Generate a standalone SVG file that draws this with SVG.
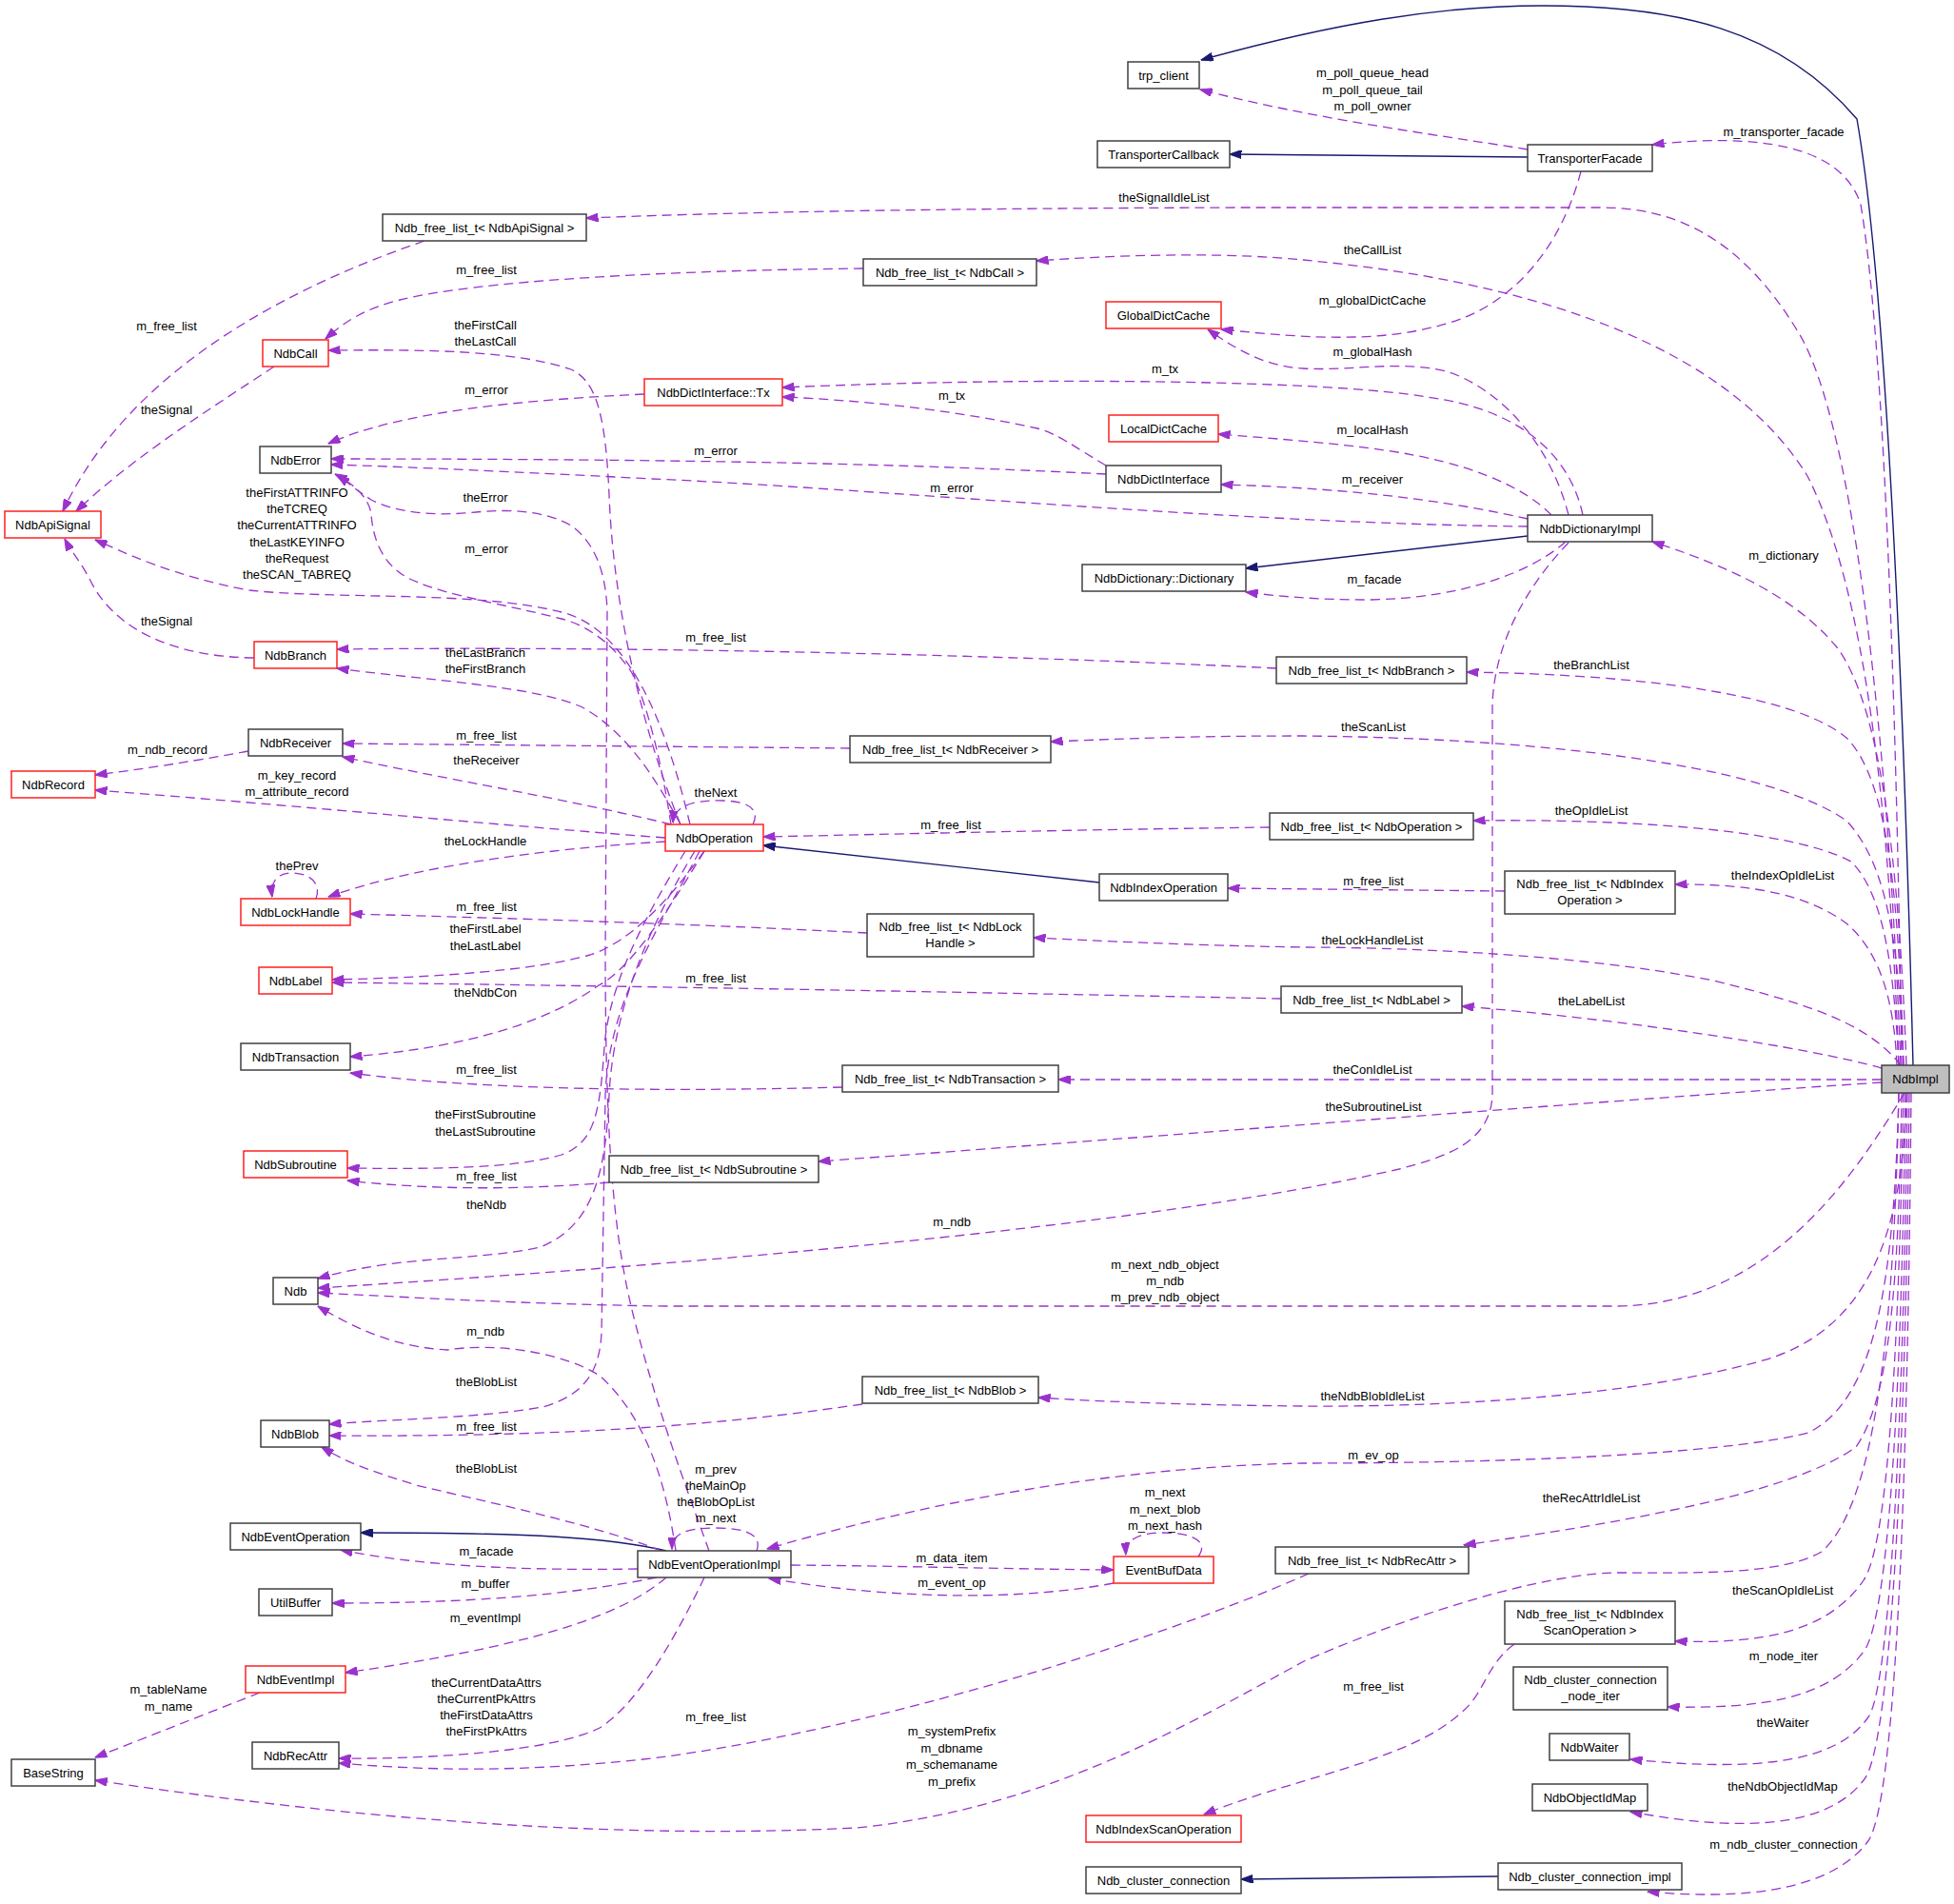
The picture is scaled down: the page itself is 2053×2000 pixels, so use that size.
<svg xmlns="http://www.w3.org/2000/svg" width="2053" height="2000" viewBox="0 0 2053 2000">
<style>
text{font-family:"Liberation Sans",Arial,sans-serif;font-size:13px;fill:#000;text-anchor:middle}
.n rect{fill:#fff;stroke:#404040;stroke-width:1.5}
.r rect{stroke:#ff2020}
.g rect{fill:#bfbfbf}
.e{fill:none;stroke:#9a32cd;stroke-width:1.3;stroke-dasharray:10,6;marker-end:url(#ap)}
.i{fill:none;stroke:#191970;stroke-width:1.4;marker-end:url(#ab)}
</style>
<defs>
<marker id="ap" viewBox="0 0 13 9" refX="12.5" refY="4.5" markerWidth="13" markerHeight="9" markerUnits="userSpaceOnUse" orient="auto"><path d="M0,0 L13,4.5 L0,9z" fill="#9a32cd" stroke="#9a32cd" stroke-dasharray="none"/></marker>
<marker id="ab" viewBox="0 0 13 9" refX="12.5" refY="4.5" markerWidth="13" markerHeight="9" markerUnits="userSpaceOnUse" orient="auto"><path d="M0,0 L13,4.5 L0,9z" fill="#191970" stroke="#191970" stroke-dasharray="none"/></marker>
</defs>
<rect width="2053" height="2000" fill="#fff"/>
<g id="connectors">
<path class="i" d="M2010,1119 C2002,800 1985,320 1951,125 C1870,30 1760,6 1621,6 C1510,6 1400,25 1262,63"/>
<path class="i" d="M1605,165 L1292,162"/>
<path class="i" d="M1605,563 L1309,597"/>
<path class="i" d="M1155,927 C1000,910 900,898 802,888"/>
<path class="i" d="M700,1629 C640,1615 560,1610 379,1610"/>
<path class="i" d="M1574,1971 L1304,1974"/>
<path class="e" d="M1605,157 C1500,140 1380,125 1261,94"/>
<path class="e" d="M1998,1119 C1992,700 1978,350 1955,215 C1935,150 1840,140 1736,152"/>
<path class="e" d="M1997,1119 C1985,800 1950,450 1890,350 C1830,250 1760,218 1683,218 L1300,218 C1000,219 800,222 616,229"/>
<path class="e" d="M446,253 C280,310 130,400 66,537"/>
<path class="e" d="M907,282 C700,284 500,295 420,315 C380,325 360,340 342,356"/>
<path class="e" d="M1995,1119 C1985,850 1960,620 1899,500 C1800,340 1550,290 1369,273 C1300,266 1200,266 1089,274"/>
<path class="e" d="M288,385 C220,430 140,480 80,537"/>
<path class="e" d="M715,866 C680,780 645,650 640,520 C636,430 625,400 600,388 C540,368 450,367 345,368"/>
<path class="e" d="M1661,180 C1640,260 1590,320 1520,340 C1450,360 1380,356 1283,346"/>
<path class="e" d="M1648,541 C1630,470 1580,410 1520,390 C1470,378 1420,390 1369,387 C1330,385 1300,368 1269,346"/>
<path class="e" d="M1663,541 C1650,480 1600,430 1499,417 C1400,400 1100,395 822,407"/>
<path class="e" d="M1162,489 C1130,470 1110,455 1090,450 C1000,430 900,420 822,417"/>
<path class="e" d="M677,414 C550,420 420,432 345,466"/>
<path class="e" d="M1630,541 C1600,510 1540,485 1455,473 C1400,465 1330,460 1280,456"/>
<path class="e" d="M1162,498 C1000,490 800,482 348,482"/>
<path class="e" d="M1605,545 C1530,528 1430,513 1283,509"/>
<path class="e" d="M1605,553 C1300,550 900,512 685,503 C550,496 420,490 348,488"/>
<path class="e" d="M725,866 C700,760 660,660 590,643 C500,620 350,630 262,620 C180,605 130,580 100,567"/>
<path class="e" d="M705,866 C695,800 680,740 664,707 C640,670 610,655 590,650 C530,635 470,625 440,612 C405,600 392,570 390,540 C388,525 375,510 352,498"/>
<path class="e" d="M745,1629 C720,1560 690,1480 665,1380 C645,1300 636,1200 636,1000 L638,640 C636,600 625,570 600,552 C570,535 530,535 500,538 C460,542 420,540 390,525 C375,515 365,507 355,499"/>
<path class="e" d="M2003,1119 C1995,900 1975,740 1930,680 C1880,620 1800,590 1736,569"/>
<path class="e" d="M1645,569 C1610,600 1540,628 1440,630 C1380,630 1340,626 1309,622"/>
<path class="e" d="M267,691 C180,690 120,660 95,610 C85,590 75,580 68,566"/>
<path class="e" d="M1341,702 C1100,690 700,678 354,682"/>
<path class="e" d="M715,866 C690,820 660,770 612,743 C560,720 450,715 354,702"/>
<path class="e" d="M2000,1119 C1995,950 1985,820 1940,775 C1880,725 1700,708 1541,706"/>
<path class="e" d="M2000,1119 C1995,1000 1985,910 1940,862 C1850,800 1600,775 1369,773 C1250,773 1180,776 1104,779"/>
<path class="e" d="M893,786 L360,781"/>
<path class="e" d="M261,789 C200,800 150,808 100,814"/>
<path class="e" d="M705,866 C600,840 450,815 360,795"/>
<path class="e" d="M699,880 C500,865 300,845 100,830"/>
<path class="e" d="M791,866 C798,852 790,842 760,841 C725,840 708,848 707,864"/>
<path class="e" d="M1995,1119 C1990,1020 1980,940 1945,905 C1880,870 1700,860 1548,862"/>
<path class="e" d="M1334,869 C1100,872 950,876 802,879"/>
<path class="e" d="M699,884 C600,890 450,905 345,942"/>
<path class="e" d="M332,944 C338,928 326,917 306,917 C290,917 284,928 286,942"/>
<path class="e" d="M1993,1119 C1990,1050 1975,1000 1940,970 C1900,940 1840,928 1760,929"/>
<path class="e" d="M1581,936 L1290,933"/>
<path class="e" d="M911,980 C800,974 600,966 368,960"/>
<path class="e" d="M740,894 C700,950 660,990 620,1003 C560,1020 450,1027 349,1029"/>
<path class="e" d="M1997,1119 C1960,1070 1880,1050 1800,1030 C1650,1000 1450,995 1369,995 C1250,993 1150,988 1086,985"/>
<path class="e" d="M1346,1049 C1100,1044 700,1036 349,1032"/>
<path class="e" d="M740,894 C700,960 660,1020 629,1035 C580,1070 500,1100 368,1110"/>
<path class="e" d="M1977,1122 C1900,1100 1700,1070 1536,1057"/>
<path class="e" d="M1977,1134 L1112,1134"/>
<path class="e" d="M885,1142 C700,1147 500,1145 368,1127"/>
<path class="e" d="M1977,1137 C1700,1155 1200,1195 860,1220"/>
<path class="e" d="M720,894 C680,960 640,1030 635,1100 C630,1170 625,1200 590,1213 C540,1228 450,1228 365,1227"/>
<path class="e" d="M640,1242 C550,1250 450,1250 365,1240"/>
<path class="e" d="M730,894 C690,960 645,1050 640,1150 C636,1250 615,1290 568,1310 C500,1325 420,1318 334,1343"/>
<path class="e" d="M1648,570 C1600,620 1570,680 1568,740 L1568,1150 C1566,1200 1520,1215 1470,1228 C1200,1290 700,1330 334,1353"/>
<path class="e" d="M2001,1148 C1940,1250 1850,1372 1696,1372 L700,1372 C550,1370 420,1362 334,1358"/>
<path class="e" d="M710,1629 C700,1560 680,1490 630,1445 C590,1420 520,1410 470,1418 C420,1415 380,1400 334,1372"/>
<path class="e" d="M735,894 C690,980 640,1050 636,1150 L632,1400 C630,1440 615,1465 570,1478 C500,1490 420,1490 346,1496"/>
<path class="e" d="M2003,1148 C2000,1300 1960,1400 1849,1430 C1700,1470 1500,1478 1369,1477 C1250,1476 1150,1472 1091,1468"/>
<path class="e" d="M906,1475 C800,1490 650,1510 346,1508"/>
<path class="e" d="M1995,1148 C1990,1350 1970,1470 1900,1505 C1800,1530 1550,1537 1369,1537 C1200,1540 1000,1570 806,1627"/>
<path class="e" d="M695,1629 C620,1600 500,1575 437,1560 C400,1548 370,1540 338,1520"/>
<path class="e" d="M795,1629 C800,1615 790,1605 752,1605 C718,1605 706,1612 706,1627"/>
<path class="e" d="M1259,1635 C1270,1620 1255,1610 1222,1610 C1195,1610 1182,1618 1183,1633"/>
<path class="e" d="M1998,1148 C1995,1350 1985,1470 1950,1520 C1880,1570 1700,1600 1538,1623"/>
<path class="e" d="M670,1648 C550,1650 440,1645 358,1628"/>
<path class="e" d="M831,1644 C950,1645 1050,1648 1170,1649"/>
<path class="e" d="M690,1657 C600,1675 500,1684 349,1684"/>
<path class="e" d="M1170,1663 C1080,1680 950,1682 808,1658"/>
<path class="e" d="M2000,1148 C1995,1400 1985,1620 1958,1660 C1920,1715 1850,1727 1760,1724"/>
<path class="e" d="M700,1657 C650,1700 550,1730 363,1757"/>
<path class="e" d="M2002,1148 C1998,1450 1985,1700 1958,1735 C1920,1785 1850,1795 1752,1793"/>
<path class="e" d="M740,1657 C710,1720 670,1790 630,1815 C580,1840 450,1848 356,1847"/>
<path class="e" d="M273,1778 L100,1846"/>
<path class="e" d="M1591,1727 C1560,1750 1560,1780 1534,1800 C1480,1850 1350,1870 1265,1906"/>
<path class="e" d="M1375,1653 C1200,1730 900,1820 685,1847 C550,1862 450,1860 356,1852"/>
<path class="e" d="M2004,1148 C2000,1500 1985,1780 1962,1805 C1930,1850 1850,1862 1713,1848"/>
<path class="e" d="M1995,1148 C1990,1400 1970,1580 1914,1630 C1870,1655 1780,1652 1696,1652 C1600,1655 1450,1710 1370,1745 C1250,1810 1100,1900 900,1920 C600,1935 300,1900 100,1870"/>
<path class="e" d="M2006,1148 C2002,1550 1985,1840 1958,1870 C1920,1920 1830,1925 1713,1903"/>
<path class="e" d="M2008,1148 C2004,1600 1990,1900 1962,1935 C1920,1990 1820,1995 1731,1987"/>
<text x="1442" y="81">m_poll_queue_head<tspan x="1442" dy="17.5">m_poll_queue_tail</tspan><tspan x="1442" dy="17.5">m_poll_owner</tspan></text>
<text x="1874" y="143">m_transporter_facade</text>
<text x="1223" y="212">theSignalIdleList</text>
<text x="511" y="288">m_free_list</text>
<text x="1442" y="267">theCallList</text>
<text x="175" y="347">m_free_list</text>
<text x="510" y="346">theFirstCall<tspan x="510" dy="17">theLastCall</tspan></text>
<text x="1442" y="320">m_globalDictCache</text>
<text x="1442" y="374">m_globalHash</text>
<text x="1224" y="392">m_tx</text>
<text x="1000" y="420">m_tx</text>
<text x="511" y="414">m_error</text>
<text x="1442" y="456">m_localHash</text>
<text x="175" y="435">theSignal</text>
<text x="752" y="478">m_error</text>
<text x="1442" y="508">m_receiver</text>
<text x="1000" y="517">m_error</text>
<text x="312" y="522">theFirstATTRINFO<tspan x="312" dy="17.2">theTCREQ</tspan><tspan x="312" dy="17.2">theCurrentATTRINFO</tspan><tspan x="312" dy="17.2">theLastKEYINFO</tspan><tspan x="312" dy="17.2">theRequest</tspan><tspan x="312" dy="17.2">theSCAN_TABREQ</tspan></text>
<text x="510" y="527">theError</text>
<text x="511" y="581">m_error</text>
<text x="1874" y="588">m_dictionary</text>
<text x="1444" y="613">m_facade</text>
<text x="175" y="657">theSignal</text>
<text x="752" y="674">m_free_list</text>
<text x="510" y="690">theLastBranch<tspan x="510" dy="17">theFirstBranch</tspan></text>
<text x="1672" y="703">theBranchList</text>
<text x="1443" y="768">theScanList</text>
<text x="511" y="777">m_free_list</text>
<text x="176" y="792">m_ndb_record</text>
<text x="511" y="803">theReceiver</text>
<text x="312" y="819">m_key_record<tspan x="312" dy="17">m_attribute_record</tspan></text>
<text x="752" y="837">theNext</text>
<text x="1672" y="856">theOpIdleList</text>
<text x="999" y="871">m_free_list</text>
<text x="510" y="888">theLockHandle</text>
<text x="312" y="914">thePrev</text>
<text x="1873" y="924">theIndexOpIdleList</text>
<text x="1443" y="930">m_free_list</text>
<text x="511" y="957">m_free_list</text>
<text x="510" y="980">theFirstLabel<tspan x="510" dy="17.5">theLastLabel</tspan></text>
<text x="1442" y="992">theLockHandleList</text>
<text x="752" y="1032">m_free_list</text>
<text x="510" y="1047">theNdbCon</text>
<text x="1672" y="1056">theLabelList</text>
<text x="1442" y="1128">theConIdleList</text>
<text x="511" y="1128">m_free_list</text>
<text x="1443" y="1167">theSubroutineList</text>
<text x="510" y="1175">theFirstSubroutine<tspan x="510" dy="17.5">theLastSubroutine</tspan></text>
<text x="511" y="1240">m_free_list</text>
<text x="511" y="1270">theNdb</text>
<text x="1000" y="1288">m_ndb</text>
<text x="1224" y="1333">m_next_ndb_object<tspan x="1224" dy="17">m_ndb</tspan><tspan x="1224" dy="17">m_prev_ndb_object</tspan></text>
<text x="510" y="1403">m_ndb</text>
<text x="511" y="1456">theBlobList</text>
<text x="1442" y="1471">theNdbBlobIdleList</text>
<text x="511" y="1503">m_free_list</text>
<text x="1443" y="1533">m_ev_op</text>
<text x="511" y="1547">theBlobList</text>
<text x="752" y="1548">m_prev<tspan x="752" dy="17">theMainOp</tspan><tspan x="752" dy="17">theBlobOpList</tspan><tspan x="752" dy="17">m_next</tspan></text>
<text x="1224" y="1572">m_next<tspan x="1224" dy="17.5">m_next_blob</tspan><tspan x="1224" dy="17.5">m_next_hash</tspan></text>
<text x="1672" y="1578">theRecAttrIdleList</text>
<text x="511" y="1634">m_facade</text>
<text x="1000" y="1641">m_data_item</text>
<text x="510" y="1668">m_buffer</text>
<text x="1000" y="1667">m_event_op</text>
<text x="1873" y="1675">theScanOpIdleList</text>
<text x="510" y="1704">m_eventImpl</text>
<text x="1874" y="1744">m_node_iter</text>
<text x="511" y="1772">theCurrentDataAttrs<tspan x="511" dy="17">theCurrentPkAttrs</tspan><tspan x="511" dy="17">theFirstDataAttrs</tspan><tspan x="511" dy="17">theFirstPkAttrs</tspan></text>
<text x="177" y="1779">m_tableName<tspan x="177" dy="17.5">m_name</tspan></text>
<text x="1443" y="1776">m_free_list</text>
<text x="752" y="1808">m_free_list</text>
<text x="1873" y="1814">theWaiter</text>
<text x="1000" y="1823">m_systemPrefix<tspan x="1000" dy="17.5">m_dbname</tspan><tspan x="1000" dy="17.5">m_schemaname</tspan><tspan x="1000" dy="17.5">m_prefix</tspan></text>
<text x="1873" y="1881">theNdbObjectIdMap</text>
<text x="1874" y="1942">m_ndb_cluster_connection</text>
</g>
<g id="NdbImpl" class="n g"><rect x="1977" y="1119" width="71" height="29"/><text x="2012.5" y="1138">NdbImpl</text></g>
<g id="trp_client" class="n"><rect x="1185" y="65" width="75" height="28"/><text x="1222.5" y="83.5">trp_client</text></g>
<g id="TransporterCallback" class="n"><rect x="1153" y="148" width="139" height="28"/><text x="1222.5" y="166.5">TransporterCallback</text></g>
<g id="TransporterFacade" class="n"><rect x="1605" y="152" width="131" height="28"/><text x="1670.5" y="170.5">TransporterFacade</text></g>
<g id="FreeListApiSignal" class="n"><rect x="402" y="225" width="214" height="28"/><text x="509" y="243.5">Ndb_free_list_t&lt; NdbApiSignal &gt;</text></g>
<g id="FreeListCall" class="n"><rect x="907" y="272" width="182" height="28"/><text x="998" y="290.5">Ndb_free_list_t&lt; NdbCall &gt;</text></g>
<g id="GlobalDictCache" class="n r"><rect x="1162" y="317" width="121" height="28"/><text x="1222.5" y="335.5">GlobalDictCache</text></g>
<g id="NdbCall" class="n r"><rect x="276" y="357" width="69" height="28"/><text x="310.5" y="375.5">NdbCall</text></g>
<g id="NdbDictInterfaceTx" class="n r"><rect x="677" y="398" width="145" height="28"/><text x="749.5" y="416.5">NdbDictInterface::Tx</text></g>
<g id="LocalDictCache" class="n r"><rect x="1165" y="436" width="115" height="28"/><text x="1222.5" y="454.5">LocalDictCache</text></g>
<g id="NdbError" class="n"><rect x="273" y="469" width="75" height="28"/><text x="310.5" y="487.5">NdbError</text></g>
<g id="NdbDictInterface" class="n"><rect x="1162" y="489" width="121" height="28"/><text x="1222.5" y="507.5">NdbDictInterface</text></g>
<g id="NdbApiSignal" class="n r"><rect x="5" y="537" width="101" height="28"/><text x="55.5" y="555.5">NdbApiSignal</text></g>
<g id="NdbDictionaryImpl" class="n"><rect x="1605" y="541" width="131" height="28"/><text x="1670.5" y="559.5">NdbDictionaryImpl</text></g>
<g id="NdbDictionaryDictionary" class="n"><rect x="1137" y="593" width="172" height="28"/><text x="1223" y="611.5">NdbDictionary::Dictionary</text></g>
<g id="NdbBranch" class="n r"><rect x="267" y="674" width="87" height="28"/><text x="310.5" y="692.5">NdbBranch</text></g>
<g id="FreeListBranch" class="n"><rect x="1341" y="690" width="200" height="28"/><text x="1441" y="708.5">Ndb_free_list_t&lt; NdbBranch &gt;</text></g>
<g id="NdbReceiver" class="n"><rect x="261" y="766" width="99" height="28"/><text x="310.5" y="784.5">NdbReceiver</text></g>
<g id="FreeListReceiver" class="n"><rect x="893" y="773" width="211" height="28"/><text x="998.5" y="791.5">Ndb_free_list_t&lt; NdbReceiver &gt;</text></g>
<g id="NdbRecord" class="n r"><rect x="12" y="810" width="88" height="28"/><text x="56" y="828.5">NdbRecord</text></g>
<g id="NdbOperation" class="n r"><rect x="699" y="866" width="103" height="28"/><text x="750.5" y="884.5">NdbOperation</text></g>
<g id="FreeListOperation" class="n"><rect x="1334" y="854" width="214" height="28"/><text x="1441" y="872.5">Ndb_free_list_t&lt; NdbOperation &gt;</text></g>
<g id="NdbIndexOperation" class="n"><rect x="1155" y="918" width="135" height="28"/><text x="1222.5" y="936.5">NdbIndexOperation</text></g>
<g id="FreeListIndexOperation" class="n"><rect x="1581" y="915" width="179" height="45"/><text x="1670.5" y="932.5">Ndb_free_list_t&lt; NdbIndex<tspan x="1670.5" dy="17">Operation &gt;</tspan></text></g>
<g id="NdbLockHandle" class="n r"><rect x="253" y="944" width="115" height="28"/><text x="310.5" y="962.5">NdbLockHandle</text></g>
<g id="FreeListLockHandle" class="n"><rect x="911" y="960" width="175" height="45"/><text x="998.5" y="977.5">Ndb_free_list_t&lt; NdbLock<tspan x="998.5" dy="17">Handle &gt;</tspan></text></g>
<g id="NdbLabel" class="n r"><rect x="272" y="1016" width="77" height="28"/><text x="310.5" y="1034.5">NdbLabel</text></g>
<g id="FreeListLabel" class="n"><rect x="1346" y="1036" width="190" height="28"/><text x="1441" y="1054.5">Ndb_free_list_t&lt; NdbLabel &gt;</text></g>
<g id="NdbTransaction" class="n"><rect x="253" y="1096" width="115" height="28"/><text x="310.5" y="1114.5">NdbTransaction</text></g>
<g id="FreeListTransaction" class="n"><rect x="885" y="1119" width="227" height="28"/><text x="998.5" y="1137.5">Ndb_free_list_t&lt; NdbTransaction &gt;</text></g>
<g id="NdbSubroutine" class="n r"><rect x="256" y="1209" width="109" height="28"/><text x="310.5" y="1227.5">NdbSubroutine</text></g>
<g id="FreeListSubroutine" class="n"><rect x="640" y="1214" width="220" height="28"/><text x="750" y="1232.5">Ndb_free_list_t&lt; NdbSubroutine &gt;</text></g>
<g id="Ndb" class="n"><rect x="287" y="1342" width="47" height="28"/><text x="310.5" y="1360.5">Ndb</text></g>
<g id="FreeListBlob" class="n"><rect x="906" y="1446" width="185" height="28"/><text x="998.5" y="1464.5">Ndb_free_list_t&lt; NdbBlob &gt;</text></g>
<g id="NdbBlob" class="n"><rect x="274" y="1492" width="72" height="28"/><text x="310" y="1510.5">NdbBlob</text></g>
<g id="NdbEventOperation" class="n"><rect x="242" y="1600" width="137" height="28"/><text x="310.5" y="1618.5">NdbEventOperation</text></g>
<g id="NdbEventOperationImpl" class="n"><rect x="670" y="1629" width="161" height="28"/><text x="750.5" y="1647.5">NdbEventOperationImpl</text></g>
<g id="EventBufData" class="n r"><rect x="1170" y="1635" width="105" height="28"/><text x="1222.5" y="1653.5">EventBufData</text></g>
<g id="FreeListRecAttr" class="n"><rect x="1340" y="1625" width="203" height="28"/><text x="1441.5" y="1643.5">Ndb_free_list_t&lt; NdbRecAttr &gt;</text></g>
<g id="UtilBuffer" class="n"><rect x="272" y="1669" width="77" height="28"/><text x="310.5" y="1687.5">UtilBuffer</text></g>
<g id="FreeListIndexScanOperation" class="n"><rect x="1581" y="1682" width="179" height="45"/><text x="1670.5" y="1699.5">Ndb_free_list_t&lt; NdbIndex<tspan x="1670.5" dy="17">ScanOperation &gt;</tspan></text></g>
<g id="NdbEventImpl" class="n r"><rect x="258" y="1750" width="105" height="28"/><text x="310.5" y="1768.5">NdbEventImpl</text></g>
<g id="NodeIter" class="n"><rect x="1590" y="1751" width="162" height="45"/><text x="1671" y="1768.5">Ndb_cluster_connection<tspan x="1671" dy="17">_node_iter</tspan></text></g>
<g id="NdbWaiter" class="n"><rect x="1628" y="1821" width="84" height="28"/><text x="1670" y="1839.5">NdbWaiter</text></g>
<g id="NdbRecAttr" class="n"><rect x="265" y="1830" width="91" height="28"/><text x="310.5" y="1848.5">NdbRecAttr</text></g>
<g id="BaseString" class="n"><rect x="12" y="1848" width="88" height="28"/><text x="56" y="1866.5">BaseString</text></g>
<g id="NdbObjectIdMap" class="n"><rect x="1610" y="1874" width="121" height="28"/><text x="1670.5" y="1892.5">NdbObjectIdMap</text></g>
<g id="NdbIndexScanOperation" class="n r"><rect x="1141" y="1907" width="163" height="28"/><text x="1222.5" y="1925.5">NdbIndexScanOperation</text></g>
<g id="Ndb_cluster_connection" class="n"><rect x="1141" y="1961" width="163" height="28"/><text x="1222.5" y="1979.5">Ndb_cluster_connection</text></g>
<g id="Ndb_cluster_connection_impl" class="n"><rect x="1574" y="1957" width="193" height="28"/><text x="1670.5" y="1975.5">Ndb_cluster_connection_impl</text></g>
</svg>
